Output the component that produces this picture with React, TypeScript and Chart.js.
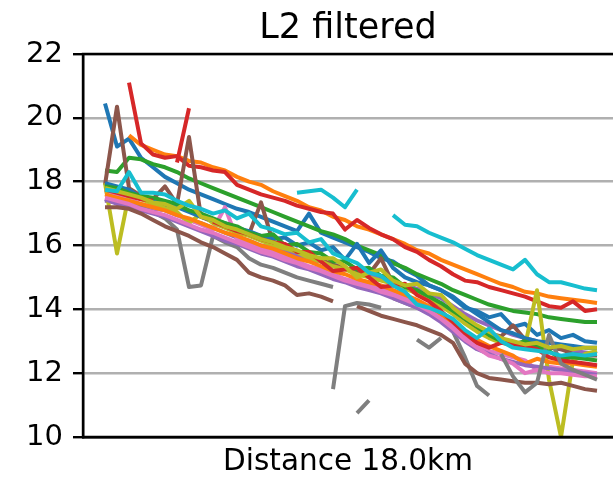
import React, { useEffect, useRef } from 'react';
import { Chart, registerables } from 'chart.js';

Chart.register(...registerables);

const N = null;

const titleText = 'L2 filtered';
const xLabel = 'Distance 18.0km';
const yTicks = [10, 12, 14, 16, 18, 20, 22];

const xIndex = [0, 1, 2, 3, 4, 5, 6, 7, 8, 9, 10, 11, 12, 13, 14, 15, 16, 17, 18, 19, 20,
  21, 22, 23, 24, 25, 26, 27, 28, 29, 30, 31, 32, 33, 34, 35, 36, 37, 38, 39, 40, 41];

const blueA = [20.45, 19.1, 19.35, 18.75, 18.45, 18.15, 17.95, 17.75, 17.6, 17.45, 17.3, 17.15, 17.05, 16.9, 16.75, 16.6, 16.45, 17.0, 16.4, 16.25, 16.1, 15.95, 15.8, 15.6, 15.5, 15.25, 15.05, 14.75, 14.6, 14.35, 14.05, 13.95, 13.75, 13.85, 13.45, 13.55, 13.2, 13.35, 13.1, 13.2, 13.0, 12.95];
const orangeA = [N, N, 19.45, 19.15, 19.0, 18.85, 18.8, 18.65, 18.6, 18.45, 18.35, 18.15, 18.0, 17.9, 17.7, 17.55, 17.4, 17.2, 17.1, 16.9, 16.8, 16.6, 16.5, 16.35, 16.2, 16.05, 15.85, 15.75, 15.55, 15.4, 15.25, 15.1, 14.95, 14.8, 14.7, 14.55, 14.5, 14.4, 14.35, 14.3, 14.25, 14.2];
const greenA = [18.35, 18.3, 18.75, 18.7, 18.55, 18.45, 18.3, 18.1, 17.95, 17.8, 17.65, 17.5, 17.35, 17.2, 17.05, 16.9, 16.75, 16.6, 16.45, 16.35, 16.2, 16.0, 15.85, 15.7, 15.45, 15.3, 15.1, 14.95, 14.8, 14.6, 14.45, 14.3, 14.15, 14.05, 13.95, 13.9, 13.85, 13.75, 13.7, 13.65, 13.6, 13.6];
const redA = [N, N, 21.1, 19.2, 18.85, 18.75, 18.8, 18.5, 18.45, 18.35, 18.3, 17.9, 17.75, 17.6, 17.5, 17.4, 17.25, 17.15, 17.05, 17.0, 16.5, 16.8, 16.55, 16.35, 16.2, 15.95, 15.8, 15.55, 15.35, 15.1, 14.9, 14.85, 14.7, 14.6, 14.5, 14.4, 14.25, 14.1, 14.05, 14.25, 13.95, 14.0];
const purpleA = [17.4, 17.35, 17.3, 17.25, 17.15, 17.1, 16.95, 16.8, 16.7, 16.55, 16.4, 16.25, 16.15, 16.0, 15.9, 15.8, 15.7, 15.55, 15.5, 15.35, 15.3, 15.15, 15.1, 14.95, 14.9, 14.75, 14.65, 14.5, 14.35, 14.1, 13.85, 13.65, 13.5, 13.35, 13.2, 13.1, 13.0, 12.8, 12.75, 12.7, 12.65, 12.6];
const brownA = [17.9, 20.35, 17.8, 17.55, 17.45, 17.85, 17.3, 19.4, 16.9, 16.75, 16.6, 16.45, 16.35, 17.35, 16.1, 15.95, 15.8, 15.65, 15.55, 15.4, 15.3, 15.15, 15.1, 15.6, 14.8, 14.7, 14.5, 14.3, 14.15, 13.95, 13.65, 13.4, 13.25, 13.15, 13.5, 13.05, 12.9, 12.8, 12.75, 12.6, 12.55, 12.55];
const pinkA = [17.7, 17.6, 17.45, 17.3, 17.2, 17.1, 16.95, 16.8, 16.65, 16.5, 17.2, 16.2, 16.05, 15.9, 15.8, 15.65, 15.5, 15.35, 15.25, 15.1, 14.95, 14.85, 14.75, 14.65, 14.5, 14.35, 14.2, 14.0, 13.75, 13.45, 13.1, 12.85, 12.7, 12.6, 12.5, 12.4, 12.1, 12.2, 12.15, 12.1, 12.05, 12.0];
const grayA = [17.45, 17.35, 17.3, 17.2, 17.05, 16.85, 16.5, 14.7, 14.75, 16.3, 16.1, 15.95, 15.6, 15.4, 15.3, 15.15, 15.0, 14.9, 14.8, 14.7, N, 10.75, 11.15, N, 14.35, 14.2, 14.05, 13.9, 13.65, 13.3, 12.5, 11.6, 11.3, N, N, N, N, N, N, N, N, N];
const oliveA = [17.95, 15.75, 17.6, 17.45, 17.3, 17.2, 17.05, 16.7, 17.0, 16.7, 16.55, 16.4, 16.3, 16.15, 16.0, 15.9, 15.8, 15.6, 15.5, 15.35, 15.25, 15.1, 15.0, 14.9, 14.8, 14.65, 14.5, 14.35, 14.1, 13.85, 13.55, 13.3, 13.1, 12.95, 12.9, 12.85, 14.6, 11.8, 10.0, 12.4, 12.6, 12.7];
const cyanA = [N, N, N, N, N, N, N, N, N, N, N, N, N, N, N, N, 17.65, 17.7, 17.75, 17.5, 17.2, 17.75, N, N, 16.95, 16.65, 16.6, 16.4, 16.25, 16.1, 15.9, 15.7, 15.55, 15.4, 15.25, 15.55, 15.1, 14.85, 14.85, 14.75, 14.65, 14.6];
const blueB = [17.95, 17.85, 17.75, 17.5, 17.45, 17.3, 17.2, 17.05, 16.9, 16.8, 16.7, 16.55, 16.45, 16.3, 16.2, 16.25, 16.0, 16.1, 15.85, 15.95, 15.55, 16.05, 15.45, 15.85, 15.3, 15.0, 14.85, 14.75, 14.6, 14.4, 14.1, 13.85, 13.6, 13.35, 13.25, 13.1, 13.0, 12.95, 12.9, 12.85, 12.8, 12.8];
const orangeB = [17.6, 17.5, 17.4, 17.3, 17.2, 17.1, 16.95, 16.85, 16.7, 16.55, 16.4, 16.3, 16.15, 16.0, 15.9, 15.75, 15.6, 15.5, 15.35, 15.2, 15.1, 14.95, 14.85, 14.75, 14.6, 14.45, 14.3, 14.1, 13.85, 13.6, 13.3, 13.05, 12.85, 12.7, 12.55, 12.3, 12.45, 12.35, 12.3, 12.3, 12.25, 12.2];
const greenB = [17.85, 17.8, 17.65, 17.55, 17.5, 17.4, 17.3, 17.1, 17.0, 16.85, 16.7, 16.6, 16.4, 16.3, 16.35, 16.0, 16.05, 15.8, 15.75, 15.5, 15.5, 15.25, 15.3, 15.05, 15.0, 14.7, 14.6, 14.4, 14.2, 13.95, 13.7, 13.45, 13.2, 13.0, 12.9, 13.0, 12.85, 12.7, 12.45, 12.5, 12.45, 12.4];
const redB = [17.75, 17.65, 17.55, 17.45, 17.4, N, 18.6, 20.3, N, 16.75, 16.6, 16.45, 16.35, 16.2, 16.1, 16.05, 15.8, 15.8, 15.5, 15.2, 15.25, 15.3, 15.0, 14.7, 14.75, 14.8, 14.45, 14.25, 13.95, 13.6, 13.25, 12.95, 12.8, 12.95, 12.9, 12.85, 12.75, 12.5, 12.4, 12.35, 12.3, 12.25];
const purpleB = [17.45, 17.3, 17.2, 17.1, 17.0, 16.9, 16.75, 16.6, 16.45, 16.3, 16.15, 16.05, 15.9, 15.75, 15.65, 15.5, 15.35, 15.25, 15.1, 14.95, 14.85, 14.7, 14.6, 14.5, 14.35, 14.2, 14.05, 13.85, 13.6, 13.3, 13.0, 12.75, 12.6, 12.45, 12.35, 12.25, 12.2, 12.15, 12.1, 12.05, 12.0, 11.95];
const brownB = [17.2, 17.2, 17.15, 17.0, 16.8, 16.6, 16.45, 16.3, 16.1, 15.95, 15.75, 15.55, 15.15, 15.0, 14.9, 14.75, 14.45, 14.5, 14.4, 14.25, N, 14.1, 13.95, 13.8, 13.7, 13.6, 13.5, 13.35, 13.2, 12.95, 12.3, 12.0, 11.85, 11.8, 11.75, 11.7, 11.7, 11.65, 11.7, 11.6, 11.5, 11.45];
const pinkB = [17.5, 17.4, 17.3, 17.15, 17.05, 16.95, 16.8, 16.65, 16.5, 16.4, 16.25, 16.1, 15.95, 15.8, 15.7, 15.55, 15.45, 15.3, 15.2, 15.05, 14.9, 14.8, 14.7, 14.55, 14.45, 14.3, 14.15, 13.95, 13.7, 13.4, 13.05, 12.8, 12.55, 12.45, 12.3, 12.0, 12.1, 12.0, 12.0, 11.95, 11.9, 11.9];
const grayB = [N, N, N, N, N, N, N, N, N, N, N, N, N, N, N, N, N, N, N, 11.5, 14.1, 14.2, 14.15, 14.05, N, N, 13.05, 12.8, 13.1, N, N, N, N, 12.6, 11.9, 11.4, 11.7, 13.2, 12.3, 12.1, 11.95, 11.8];
const oliveB = [17.8, 17.7, 17.6, 17.5, 17.35, 17.3, 17.15, 17.4, 16.9, 16.8, 16.6, 16.5, 16.35, 16.2, 16.1, 15.95, 15.85, 15.7, 15.6, 15.6, 15.35, 15.0, 15.15, 15.25, 14.9, 14.75, 14.8, 14.5, 14.45, 14.05, 13.75, 13.5, 13.3, 13.1, 13.0, 12.9, 12.95, 12.8, 12.85, 12.75, 12.8, 12.8];
const cyanB = [17.75, 17.7, 18.3, 17.65, 17.65, 17.6, 17.4, 17.25, 17.15, 17.0, 17.1, 16.85, 17.0, 16.6, 16.5, 16.35, 16.4, 16.1, 16.2, 15.75, 15.6, 15.45, 15.15, 15.05, 14.75, 14.55, 14.15, 14.05, 13.9, 13.7, 13.35, 13.1, 13.4, 13.0, 12.8, 12.75, 12.7, 12.65, 12.55, 12.6, 12.55, 12.6];

const seriesList = [blueA, orangeA, greenA, redA, purpleA, brownA, pinkA, grayA, oliveA, cyanA,
  blueB, orangeB, greenB, redB, purpleB, brownB, pinkB, grayB, oliveB, cyanB];

const palette = ['#1f77b4', '#ff7f0e', '#2ca02c', '#d62728', '#9467bd',
  '#8c564b', '#e377c2', '#7f7f7f', '#bcbd22', '#17becf'];

const FONT = '"DejaVu Sans", sans-serif';

export default function App() {
  const ref = useRef<HTMLCanvasElement>(null);

  useEffect(() => {
    document.body.style.margin = '0';
    const canvas = ref.current;
    if (!canvas) return;

    const framePlugin = {
      id: 'frame',
      afterDatasetsDraw(chart: any) {
        const { ctx, chartArea } = chart;
        const { left, right, top, bottom } = chartArea;
        ctx.save();
        ctx.strokeStyle = '#000';
        ctx.lineWidth = 2.4;
        ctx.lineCap = 'square';
        ctx.beginPath();
        ctx.moveTo(right + 2, top);
        ctx.lineTo(left, top);
        ctx.lineTo(left, bottom);
        ctx.lineTo(right + 2, bottom);
        ctx.stroke();
        ctx.restore();
      },
      afterDraw(chart: any) {
        const { ctx, chartArea } = chart;
        ctx.save();
        ctx.fillStyle = '#000';
        ctx.font = '35px ' + FONT;
        ctx.textAlign = 'center';
        ctx.textBaseline = 'alphabetic';
        ctx.fillText(titleText, (chartArea.left + chartArea.right) / 2, 38);
        ctx.restore();
      },
    };

    const datasets = seriesList.map((vals, i) => ({
      label: 'series ' + (i + 1),
      data: vals.map((v, k) => ({ x: xIndex[k], y: v })),
      borderColor: palette[i % 10],
      backgroundColor: palette[i % 10],
      borderWidth: 4,
      pointRadius: 0,
      fill: false,
      tension: 0,
      spanGaps: false,
      order: -i,
      borderJoinStyle: 'round' as const,
      borderCapStyle: 'butt' as const,
    }));

    const chart = new Chart(canvas, {
      type: 'line',
      data: { datasets },
      options: {
        responsive: false,
        animation: false,
        layout: { padding: { top: 54, left: 0, right: 0, bottom: 0 } },
        plugins: {
          legend: { display: false },
          tooltip: { enabled: false },
          title: { display: false },
        },
        scales: {
          x: {
            type: 'linear',
            min: -1.8333,
            max: 42.3333,
            ticks: { display: false },
            grid: { display: false, drawTicks: false },
            border: { display: true, color: '#000', width: 2.4 },
            title: {
              display: true,
              text: xLabel,
              color: '#000',
              font: { family: FONT, size: 29.5, lineHeight: 1 },
              padding: 0,
            },
            afterFit: (s: any) => { s.height = 40; },
          },
          y: {
            type: 'linear',
            min: 10,
            max: 22,
            afterBuildTicks: (s: any) => { s.ticks = yTicks.map((v) => ({ value: v })); },
            ticks: {
              color: '#000',
              font: { family: FONT, size: 29 },
              padding: 10,
            },
            grid: {
              color: '#b0b0b0',
              lineWidth: 2.4,
              drawTicks: true,
              tickLength: 10,
              tickColor: '#000',
              tickWidth: 2.4,
            },
            border: { display: true, color: '#000', width: 2.4 },
            afterFit: (s: any) => { s.width = 83; },
          },
        },
      },
      plugins: [framePlugin],
    } as any);

    return () => chart.destroy();
  }, []);

  return (
    <canvas
      ref={ref}
      width={613}
      height={477}
      style={{ display: 'block', width: '613px', height: '477px' }}
    />
  );
}
